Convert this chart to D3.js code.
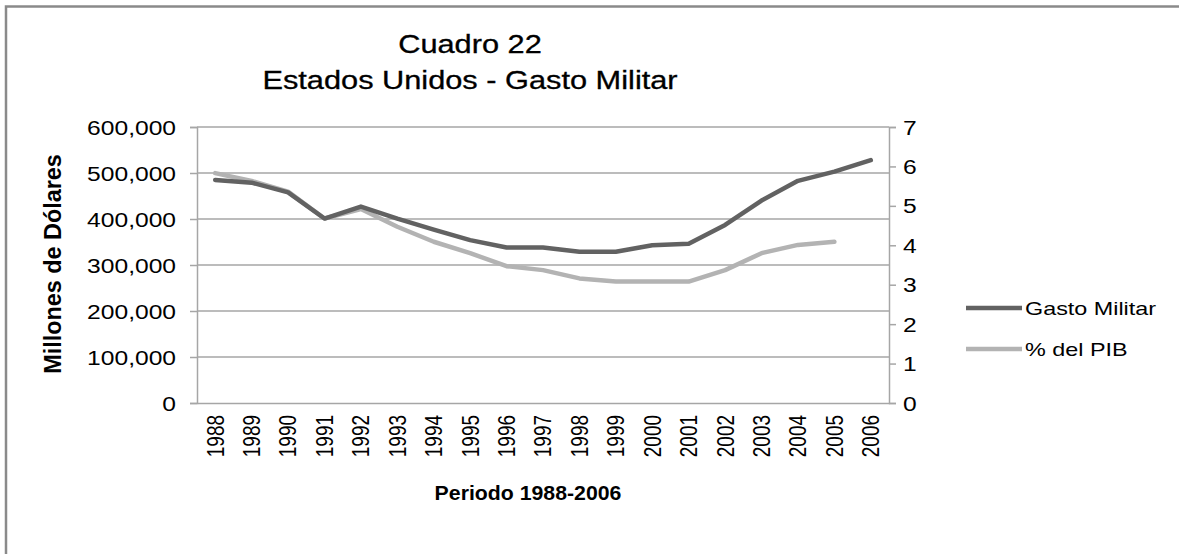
<!DOCTYPE html>
<html>
<head>
<meta charset="utf-8">
<script src="https://cdn.jsdelivr.net/npm/d3@7"></script>
<style>
  html, body { margin: 0; padding: 0; background: #fff; }
  svg { display: block; font-family: "Liberation Sans", Arial, sans-serif; }
</style>
</head>
<body>
<svg id="chart" width="1179" height="554"></svg>
<script>
// ---- data ----
const years = ["1988","1989","1990","1991","1992","1993","1994","1995","1996","1997",
               "1998","1999","2000","2001","2002","2003","2004","2005","2006"];
const gastoMilitar = [485000, 479000, 458000, 401000, 427000, 401000, 377000, 354000, 338000, 338000,
                      329000, 329000, 343000, 346000, 387000, 440000, 483000, 503000, 528000];
const pctPIB = [5.83, 5.63, 5.36, 4.68, 4.92, 4.47, 4.09, 3.80, 3.47, 3.37,
                3.16, 3.08, 3.08, 3.08, 3.37, 3.80, 4.01, 4.09];
const leftTicks = [0, 100000, 200000, 300000, 400000, 500000, 600000];
const rightTicks = [0, 1, 2, 3, 4, 5, 6, 7];
const seriesNames = ["Gasto Militar", "% del PIB"];
const titleLines = ["Cuadro 22", "Estados Unidos - Gasto Militar"];
const xTitle = "Periodo 1988-2006";
const yTitle = "Millones de Dólares";

// ---- layout ----
const SX = 1.23;          // horizontal stretch of the source image text
const plot = { left: 197, right: 889, top: 127, bottom: 403 };
const gridColor = "#a6a6a6";
const colors = ["#626262", "#b3b3b3"];

const svg = d3.select("#chart");

// outer border (only top/left visible in reference)
svg.append("rect")
  .attr("x", 6).attr("y", 6.5).attr("width", 1200).attr("height", 600)
  .attr("fill", "none").attr("stroke", "#8a8a8a").attr("stroke-width", 2.5);

const x = d3.scaleBand().domain(years).range([plot.left, plot.right]);
const yL = d3.scaleLinear().domain([0, 600000]).range([plot.bottom, plot.top]);
const yR = d3.scaleLinear().domain([0, 7]).range([plot.bottom, plot.top]);
const cx = d => x(d) + x.bandwidth() / 2;

// gridlines
svg.append("g").selectAll("line").data(leftTicks.filter(d => d > 0)).join("line")
  .attr("x1", plot.left).attr("x2", plot.right)
  .attr("y1", d => yL(d)).attr("y2", d => yL(d))
  .attr("stroke", gridColor).attr("stroke-width", 1.5);

// left axis
const gL = svg.append("g").attr("transform", `translate(${plot.left},0)`)
  .call(d3.axisLeft(yL).tickValues(leftTicks).tickSize(7).tickFormat(d3.format(",")));
gL.select(".domain").attr("stroke", gridColor).attr("stroke-width", 1.5);
gL.selectAll(".tick line").attr("stroke", gridColor).attr("stroke-width", 1.5);
gL.selectAll(".tick text")
  .attr("x", null).attr("dy", "0.35em")
  .attr("transform", `translate(-21,0) scale(${SX},1)`)
  .attr("text-anchor", "end")
  .attr("font-size", 20).attr("fill", "#000");

// right axis
const gR = svg.append("g").attr("transform", `translate(${plot.right},0)`)
  .call(d3.axisRight(yR).tickValues(rightTicks).tickSize(7).tickFormat(d3.format("d")));
gR.select(".domain").attr("stroke", gridColor).attr("stroke-width", 1.5);
gR.selectAll(".tick line").attr("stroke", gridColor).attr("stroke-width", 1.5);
gR.selectAll(".tick text")
  .attr("x", null).attr("dy", "0.35em")
  .attr("transform", `translate(14,0) scale(${SX},1)`)
  .attr("text-anchor", "start")
  .attr("font-size", 20).attr("fill", "#000");

// bottom axis
const gB = svg.append("g").attr("transform", `translate(0,${plot.bottom})`)
  .call(d3.axisBottom(x).tickSize(0));
gB.select(".domain").attr("stroke", gridColor).attr("stroke-width", 1.5);
gB.selectAll(".tick text")
  .attr("y", null).attr("dy", "0.36em")
  .attr("transform", `translate(0,12) scale(${SX},1) rotate(-90)`)
  .attr("text-anchor", "end")
  .attr("font-size", 19).attr("fill", "#000");

// lines
const lineL = d3.line().x((d, i) => cx(years[i])).y(d => yL(d));
const lineR = d3.line().x((d, i) => cx(years[i])).y(d => yR(d));
svg.append("path").datum(pctPIB).attr("d", lineR)
  .attr("fill", "none").attr("stroke", colors[1]).attr("stroke-width", 4.5)
  .attr("stroke-linejoin", "round").attr("stroke-linecap", "round");
svg.append("path").datum(gastoMilitar).attr("d", lineL)
  .attr("fill", "none").attr("stroke", colors[0]).attr("stroke-width", 4.5)
  .attr("stroke-linejoin", "round").attr("stroke-linecap", "round");

// title
svg.append("g").selectAll("text").data(titleLines).join("text")
  .attr("transform", (d, i) => `translate(470,${53 + i * 36}) scale(${SX},1)`)
  .attr("text-anchor", "middle").attr("font-size", 25).attr("fill", "#000")
  .attr("stroke", "#000").attr("stroke-width", 0.3)
  .text(d => d);

// axis titles
svg.append("text")
  .attr("transform", `translate(528,500) scale(1.15,1.08)`)
  .attr("text-anchor", "middle").attr("font-size", 18.5).attr("font-weight", "bold")
  .text(xTitle);
svg.append("text")
  .attr("transform", `translate(53,264) scale(${SX},1.2) rotate(-90)`)
  .attr("text-anchor", "middle").attr("dy", "0.35em")
  .attr("font-size", 19.5).attr("font-weight", "bold")
  .text(yTitle);

// legend
const lg = svg.append("g").selectAll("g").data(seriesNames).join("g")
  .attr("transform", (d, i) => `translate(966,${308 + i * 41})`);
lg.append("line").attr("x1", 0).attr("x2", 56).attr("y1", 0).attr("y2", 0)
  .attr("stroke", (d, i) => colors[i]).attr("stroke-width", 4.5);
lg.append("text")
  .attr("transform", `translate(59,0) scale(${SX},1)`)
  .attr("dy", "0.35em").attr("font-size", 19).attr("fill", "#000")
  .text(d => d);
</script>
</body>
</html>
